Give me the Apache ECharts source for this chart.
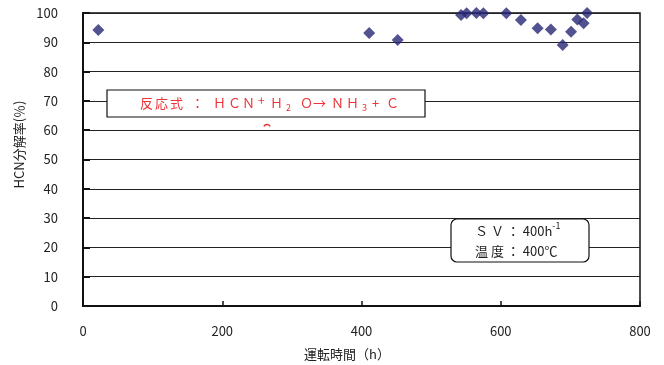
<!DOCTYPE html>
<html><head><meta charset="utf-8">
<script src="https://cdn.jsdelivr.net/npm/echarts@6/dist/echarts.min.js"></script>
<style>html,body{margin:0;padding:0;background:#fff}#c{width:664px;height:365px}</style>
</head><body><div id="c"></div>
<script>
var hours = [22, 411, 452, 543, 551, 565, 575, 608, 629, 653, 672, 689, 701, 710, 719, 724];
var decomposition = [94.2, 93.2, 90.8, 99.3, 99.9, 100, 99.9, 99.9, 97.6, 94.8, 94.4, 89.1, 93.6, 97.8, 96.5, 100];
var xTicks = [0, 200, 400, 600, 800];
var yTicks = [0, 10, 20, 30, 40, 50, 60, 70, 80, 90, 100];

var font = '"Noto Sans CJK JP", "Liberation Sans", sans-serif';
var red = '#ec3438';
var chart = echarts.init(document.getElementById('c'), null, {renderer: 'canvas'});
var pts = hours.map(function (h, i) { return [h, decomposition[i]]; });

// reaction formula, one token per glyph for the wide letter spacing
var formula = [
  ['反', 15, 'n'], ['応', 15, 'n'], ['式', 21, 'n'], ['：', 22, 'n'],
  ['Ｈ', 15, 'n'], ['Ｃ', 14, 'n'], ['Ｎ', 16, 'n'], ['+', 12, 'sp'],
  ['Ｈ', 16, 'n'], ['2', 14, 'sb'], ['Ｏ', 13, 'n'], ['→', 18, 'n'],
  ['Ｎ', 15, 'n'], ['Ｈ', 16, 'n'], ['3', 10, 'sb'], ['+', 14, 'n'], ['Ｃ', 15, 'n']
];
var rich = {};
var txt = '';
formula.forEach(function (f, i) {
  var k = 't' + i;
  var base = {fontFamily: font, fill: red, width: f[1], align: 'left', lineHeight: 18};
  if (f[2] === 'n') { base.fontSize = 13; }
  if (f[2] === 'sp') { base.fontSize = 12; base.verticalAlign = 'top'; }
  if (f[2] === 'sb') { base.fontSize = 9; base.verticalAlign = 'bottom'; }
  rich[k] = base;
  txt += '{' + k + '|' + f[0] + '}';
});

chart.setOption({
  animation: false,
  backgroundColor: '#fff',
  grid: {left: 83, right: 24, top: 13, bottom: 59, outerBoundsMode: 'none', containLabel: false,
         show: true, borderColor: '#111', borderWidth: 1.5},
  xAxis: {
    type: 'value', min: xTicks[0], max: xTicks[xTicks.length - 1], interval: 200,
    name: '運転時間（h）', nameLocation: 'middle', nameGap: 42,
    nameTextStyle: {fontFamily: font, fontSize: 13, color: '#222', padding: [0, 29, 0, 0]},
    axisLine: {lineStyle: {color: '#111', width: 2}},
    axisTick: {inside: true, length: 5, lineStyle: {color: '#111', width: 1.5}},
    axisLabel: {fontFamily: font, fontSize: 13, color: '#222', margin: 19},
    splitLine: {show: false}
  },
  yAxis: {
    type: 'value', min: 0, max: 100, interval: 10,
    name: 'HCN分解率(％)', nameLocation: 'middle', nameGap: 57, nameRotate: 90,
    nameTextStyle: {fontFamily: font, fontSize: 13, color: '#222', padding: [0, 0, 0, 30]},
    axisLine: {lineStyle: {color: '#111', width: 2}},
    axisTick: {inside: true, length: 7, lineStyle: {color: '#111', width: 2}},
    axisLabel: {fontFamily: font, fontSize: 13, color: '#222', margin: 25},
    splitLine: {lineStyle: {color: '#222', width: 1.2}}
  },
  series: [{
    type: 'scatter', data: pts, symbol: 'diamond', symbolSize: [12, 12],
    itemStyle: {color: '#272775'}
  }],
  graphic: [
    {type: 'rect', z: 10, shape: {x: 107, y: 90, width: 318, height: 27},
     style: {fill: '#fff', stroke: '#111', lineWidth: 1.2}},
    {type: 'text', z: 11, left: 140, top: 94, style: {text: txt, rich: rich}},
    {type: 'arc', z: 11, shape: {cx: 267, cy: 128, r: 3.5, startAngle: Math.PI * 1.15, endAngle: Math.PI * 1.85},
     style: {stroke: red, lineWidth: 1.5, fill: null}},
    {type: 'rect', z: 10, shape: {x: 451, y: 219, width: 138, height: 43, r: 6},
     style: {fill: '#fff', stroke: '#111', lineWidth: 1.2}},
    {type: 'text', z: 11, left: 475, top: 221,
     style: {
       text: '{n|Ｓ Ｖ ： 400h}{sp|-1}\n{n|温 度 ： 400℃}',
       rich: {
         n: {fontFamily: font, fontSize: 13, lineHeight: 20, fill: '#222'},
         sp: {fontFamily: font, fontSize: 9, lineHeight: 20, verticalAlign: 'top', fill: '#222'}
       }
     }}
  ]
});
</script></body></html>
